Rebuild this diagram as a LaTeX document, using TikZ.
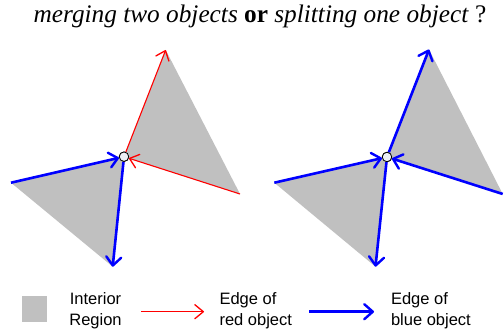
\documentclass[tikz,border=0pt]{standalone}
\usepackage{fontspec}
\setmainfont{Liberation Serif}
\newfontfamily\legendfont{Liberation Sans}
\usetikzlibrary{arrows.meta}
\definecolor{regiongray}{RGB}{192,192,192}
\definecolor{vtxfill}{RGB}{236,240,245}
\begin{document}
\begin{tikzpicture}[x=1pt,y=-1pt,
  region/.style={fill=regiongray,draw=none},
  rededge/.style={draw=red,line width=1.1pt,-{Straight Barb[length=8.5pt,width=14pt,line width=1.3pt,round]}},
  blueedge/.style={draw=blue,line width=2.6pt,-{Straight Barb[length=8.5pt,width=15pt,line width=2.4pt,round]}},
  vtx/.style={circle,draw=black,line width=0.8pt,fill=vtxfill,minimum size=9.5pt,inner sep=0pt},
  legtext/.style={font=\legendfont\fontsize{16.5}{20.5}\selectfont,align=left,anchor=west}
]
\useasboundingbox (0,0) rectangle (504,334);
% title
\node (title) at (260,16) {\fontsize{25.3}{28}\selectfont\itshape merging two objects \textbf{\upshape or} splitting one object\/ \upshape ?};

% ---- left figure ----
\coordinate (La) at (11,182.7);
\coordinate (Lb) at (112.7,266.7);
\coordinate (Lt) at (165.7,50);
\coordinate (Lr) at (240,194);
\node[vtx] (Lv) at (124,156.7) {};
\fill[region] (Lv.center) -- (La) -- (Lb) -- cycle;
\fill[region] (Lv.center) -- (Lt) -- (Lr) -- cycle;
\draw[blueedge] (La) -- (Lv);
\draw[blueedge] (Lv) -- (Lb);
\draw[rededge] (Lv) -- (Lt);
\draw[rededge] (Lr) -- (Lv);
\node[vtx] at (Lv) {};

% ---- right figure ----
\coordinate (Ra) at (274.3,182.7);
\coordinate (Rb) at (375.5,266.7);
\coordinate (Rt) at (429,49.5);
\coordinate (Rr) at (502.7,194);
\node[vtx] (Rv) at (387,157) {};
\fill[region] (Rv.center) -- (Ra) -- (Rb) -- cycle;
\fill[region] (Rv.center) -- (Rt) -- (Rr) -- cycle;
\draw[blueedge] (Ra) -- (Rv);
\draw[blueedge] (Rv) -- (Rb);
\draw[blueedge] (Rv) -- (Rt);
\draw[blueedge] (Rr) -- (Rv);
\node[vtx] at (Rv) {};

% ---- legend ----
\fill[regiongray] (22,296) rectangle (47,322);
\node[legtext,align=center,anchor=center] (lint) at (95.5,310.5) {Interior\\Region};
\coordinate (rs) at (141,311.7);
\coordinate (re) at (204,311.7);
\draw[rededge] (rs) -- (re);
\node[legtext] (lred) at (216,310.5) {Edge of\\red object};
\coordinate (bs) at (309,311.7);
\coordinate (be) at (374,311.7);
\draw[blueedge] (bs) -- (be);
\node[legtext] (lblue) at (387.5,310.5) {Edge of\\blue object};
\end{tikzpicture}
\end{document}
